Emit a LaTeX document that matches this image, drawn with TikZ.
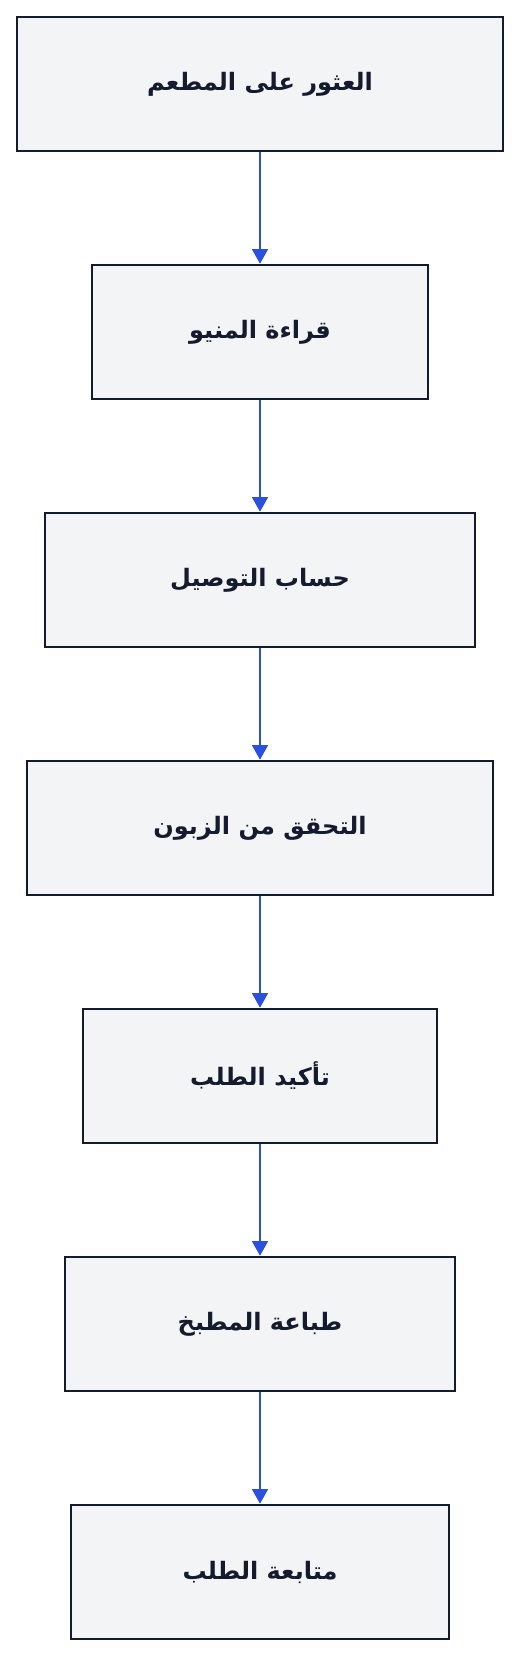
\documentclass[tikz,border=0pt]{standalone}
\usepackage{fontspec}
\newfontfamily\arabicfont[Script=Arabic]{DejaVu Sans}
\TeXXeTstate=1
\usetikzlibrary{arrows.meta,positioning}
\usepackage{xcolor}
\definecolor{stagefill}{HTML}{F3F4F6}
\definecolor{stageline}{HTML}{141B2D}
\definecolor{flowblue}{HTML}{2B50DD}
\newcommand{\ar}[1]{{\arabicfont\bfseries\fontsize{18}{21}\selectfont\beginR #1\endR}}

\begin{document}
\begin{tikzpicture}[x=0.75pt,y=0.75pt,node distance=186pt,line width=1.4pt,
  stage/.style={draw=stageline,fill=stagefill,text=stageline,minimum height=101pt,inner sep=0pt},
  flow/.style={draw=flowblue,line width=1.4pt,-{Triangle[width=12pt,length=11pt]}}]
  \useasboundingbox (0,0) rectangle (520,-1656);

  \node[stage,minimum width=365pt] (find)  at (260,-84)   {\ar{العثور على المطعم}};
  \node[stage,minimum width=252pt] (menu)  [below of=find]  {\ar{قراءة المنيو}};
  \node[stage,minimum width=322pt] (cost)  [below of=menu]  {\ar{حساب التوصيل}};
  \node[stage,minimum width=349pt] (check) [below of=cost]  {\ar{التحقق من الزبون}};
  \node[stage,minimum width=265pt] (confirm) [below of=check] {\ar{تأكيد الطلب}};
  \node[stage,minimum width=292pt] (kitchen) [below of=confirm] {\ar{طباعة المطبخ}};
  \node[stage,minimum width=283pt] (track) [below of=kitchen] {\ar{متابعة الطلب}};

  \path (find)    edge[flow] (menu)
        (menu)    edge[flow] (cost)
        (cost)    edge[flow] (check)
        (check)   edge[flow] (confirm)
        (confirm) edge[flow] (kitchen)
        (kitchen) edge[flow] (track);
\end{tikzpicture}
\end{document}
